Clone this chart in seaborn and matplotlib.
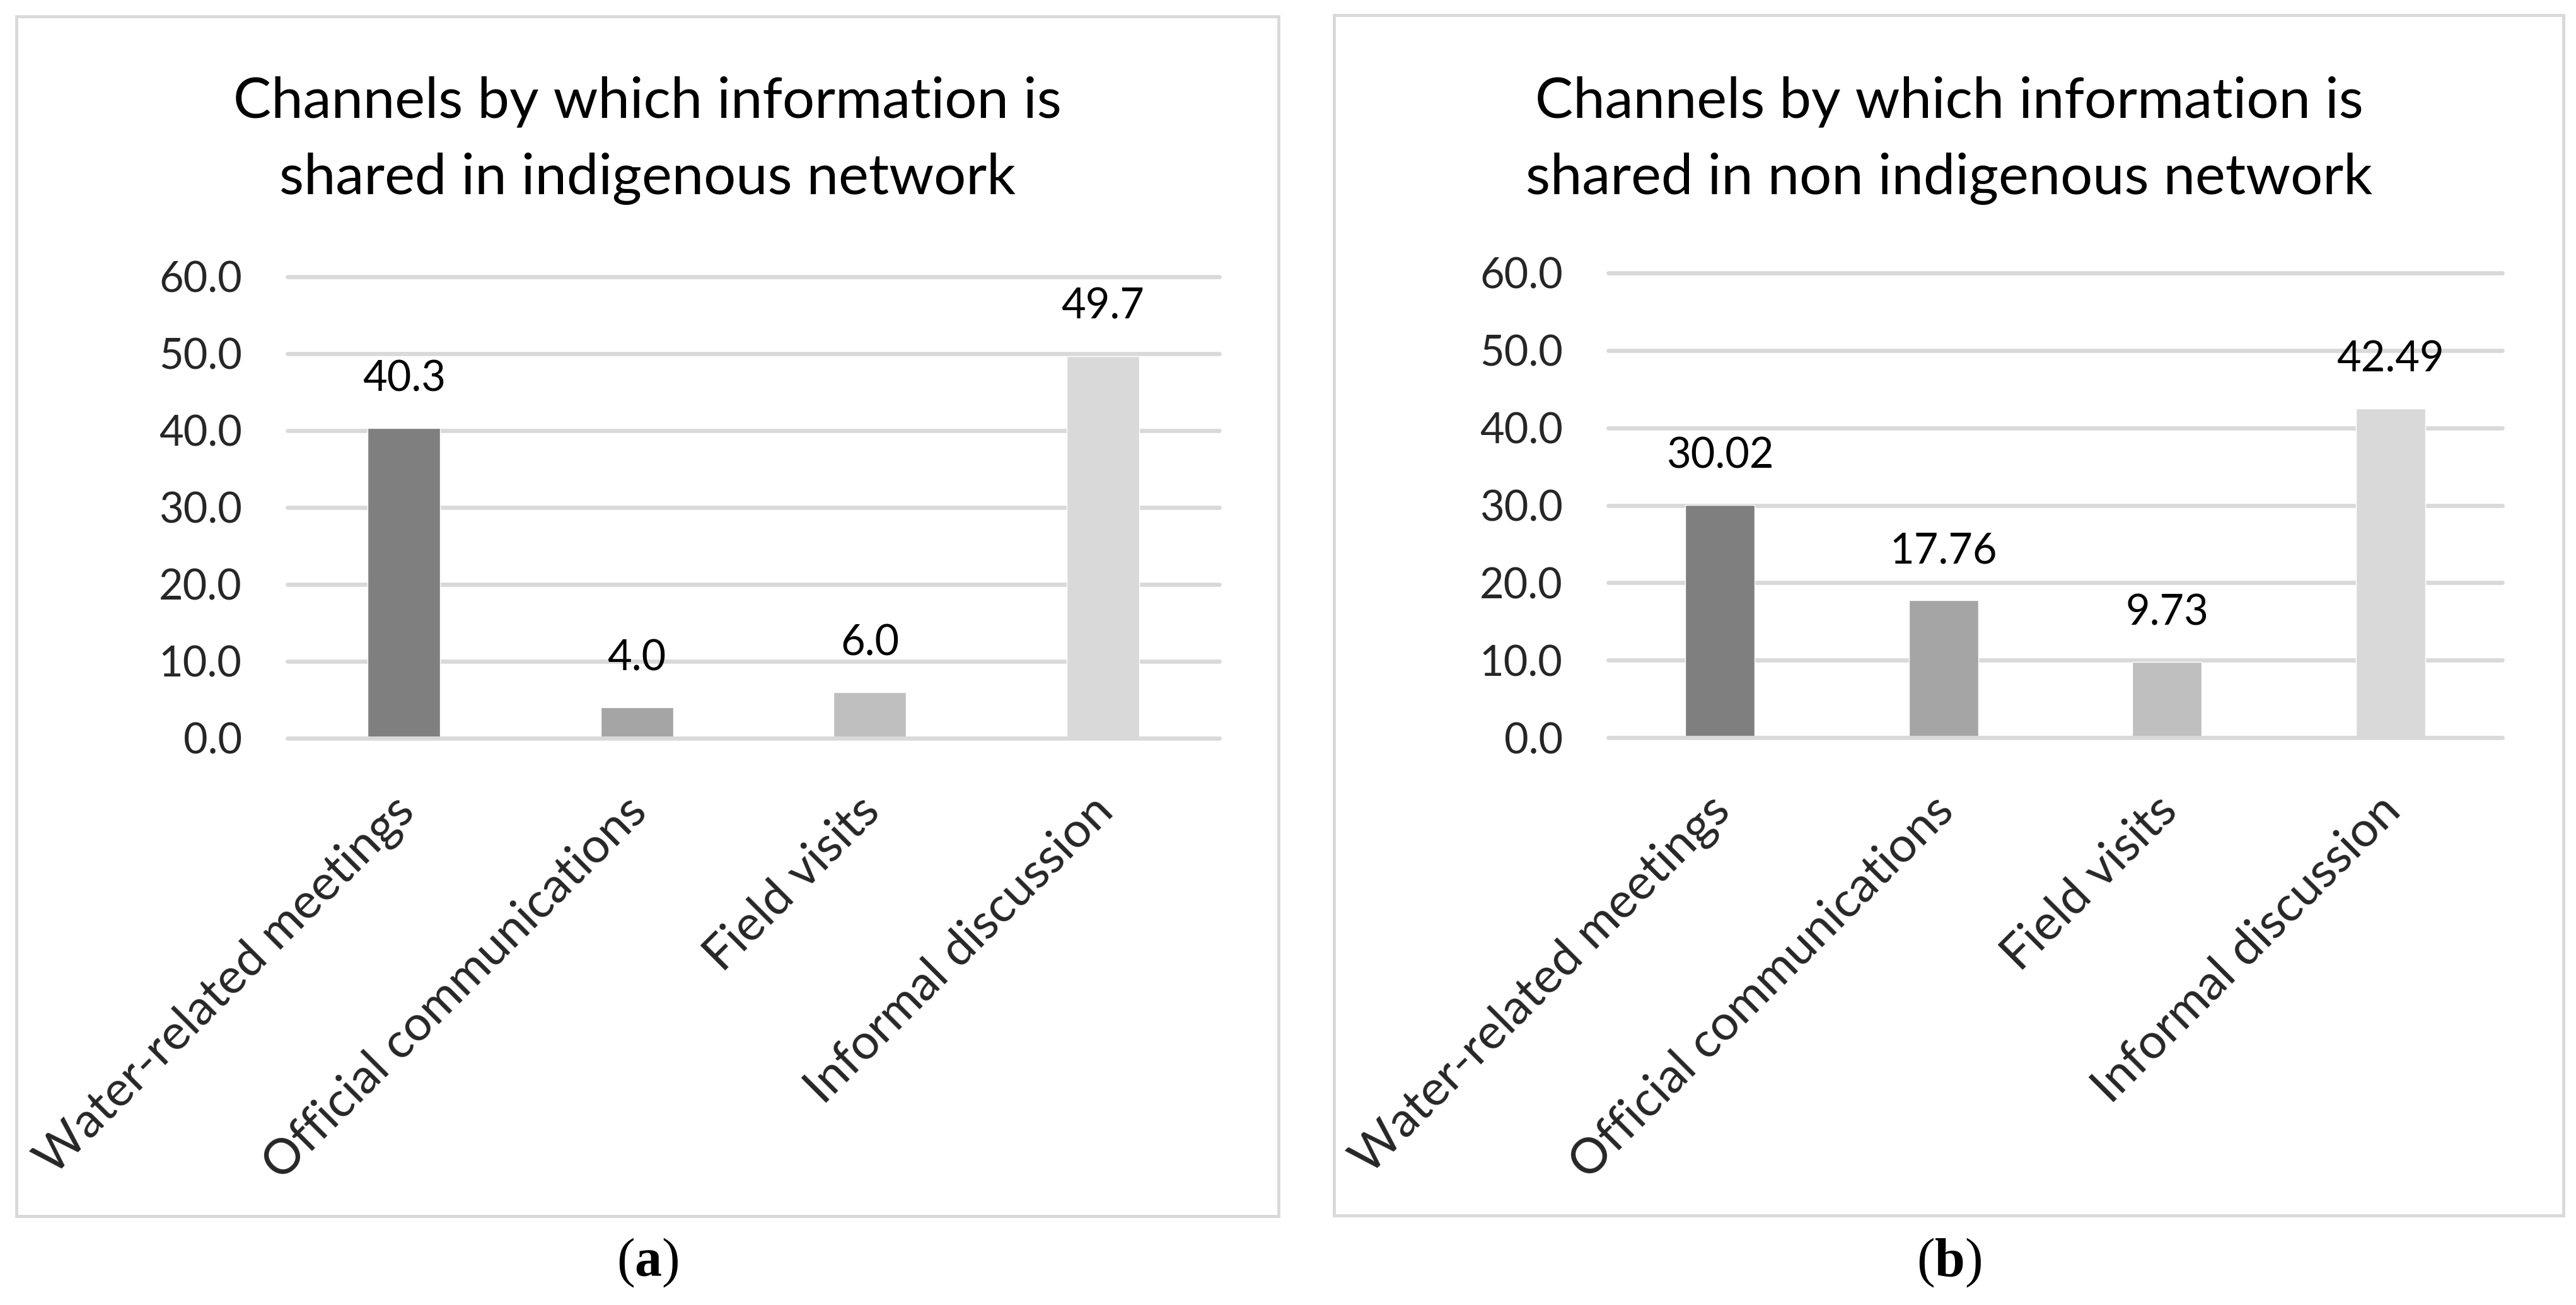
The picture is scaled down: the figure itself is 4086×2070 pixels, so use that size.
import numpy as np
import pandas as pd
import matplotlib
matplotlib.use('Agg')
import matplotlib.pyplot as plt
import matplotlib.transforms as mtransforms
from matplotlib.patches import Rectangle
import seaborn as sns

# ── Data ─────────────────────────────────────────────────────
channels = ['Water-related meetings', 'Official communications',
            'Field visits', 'Informal discussion']
indigenous = [40.3, 4.0, 6.0, 49.7]
non_indigenous = [30.02, 17.76, 9.73, 42.49]
indigenous_labels = ['40.3', '4.0', '6.0', '49.7']
non_indigenous_labels = ['30.02', '17.76', '9.73', '42.49']
title_a = ['Channels by which information is',
           'shared in indigenous network']
title_b = ['Channels by which information is',
           'shared in non indigenous network']
y_ticks = [0, 10, 20, 30, 40, 50, 60]

bar_colors = ['#7f7f7f', '#a5a5a5', '#bfbfbf', '#d9d9d9']
GRID = '#d9d9d9'

W, H = 4086, 2070
sns.set_theme(style='white')
plt.rcParams['font.family'] = ['Lato', 'DejaVu Sans']
plt.rcParams['mathtext.fontset'] = 'custom'
plt.rcParams['mathtext.rm'] = 'Liberation Serif'
plt.rcParams['mathtext.bf'] = 'Liberation Serif:bold'

fig = plt.figure(figsize=(W / 100, H / 100), dpi=100)


def frac_box(x0, y0, x1, y1):
    # pixel box with top-left origin -> figure fraction [l, b, w, h]
    return [x0 / W, 1 - y1 / H, (x1 - x0) / W, (y1 - y0) / H]


# ── One panel ────────────────────────────────────────────────
def draw_panel(ax_box, frame, values, labels, title, cx, caption):
    l, b, w, h = frac_box(*frame)
    fig.patches.append(Rectangle((l, b), w, h, transform=fig.transFigure,
                                 fill=False, edgecolor=GRID, lw=3.5))

    ax = fig.add_axes(frac_box(*ax_box))
    df = pd.DataFrame({'channel': channels, 'value': values})
    sns.barplot(data=df, x='channel', y='value', hue='channel',
                palette=bar_colors, legend=False, width=0.31,
                saturation=1, ax=ax, zorder=2)

    for t in y_ticks:
        ax.axhline(t, color=GRID, lw=4.8, clip_on=False,
                   zorder=3 if t == 0 else 1)

    ax.set_ylim(0, 60)
    ax.set_xlim(-0.5, 3.5)
    for s in ax.spines.values():
        s.set_visible(False)
    ax.set_xlabel('')
    ax.set_ylabel('')

    ax.tick_params(axis='y', length=0, pad=52, labelsize=48)
    ax.tick_params(axis='x', length=0, pad=86)
    ax.set_yticks(y_ticks)
    ax.set_yticklabels([f'{t:.1f}' for t in y_ticks])
    ax.set_xticks(range(len(channels)))
    ax.set_xticklabels(channels, rotation=45, ha='right', va='baseline',
                       rotation_mode='anchor', fontsize=56)
    shift = mtransforms.ScaledTranslation(14 / 72, 0, fig.dpi_scale_trans)
    for lab in ax.get_xticklabels():
        lab.set_transform(lab.get_transform() + shift)

    # value labels above the bars
    for i, (v, lbl) in enumerate(zip(values, labels)):
        ax.annotate(lbl, (i, v), xytext=(0, 56), textcoords='offset points',
                    ha='center', va='center', fontsize=48, color='black')

    fig.text(cx / W, 1 - 186 / H, title[0], ha='center', va='baseline',
             fontsize=65, color='black')
    fig.text(cx / W, 1 - 308 / H, title[1], ha='center', va='baseline',
             fontsize=65, color='black')

    fig.text(cx / W, 1 - 2003 / H, '($\\mathbf{' + caption + '}$)',
             ha='center', va='center', fontsize=62,
             family='Liberation Serif', color='black')
    return ax


draw_panel((456, 439, 1934, 1171), (26, 26, 2028, 1929),
           indigenous, indigenous_labels, title_a, 1027, 'a')
draw_panel((2551, 433, 3969, 1170), (2116, 24, 4066, 1928),
           non_indigenous, non_indigenous_labels, title_b, 3092, 'b')

fig.savefig('out.png', dpi=100)
